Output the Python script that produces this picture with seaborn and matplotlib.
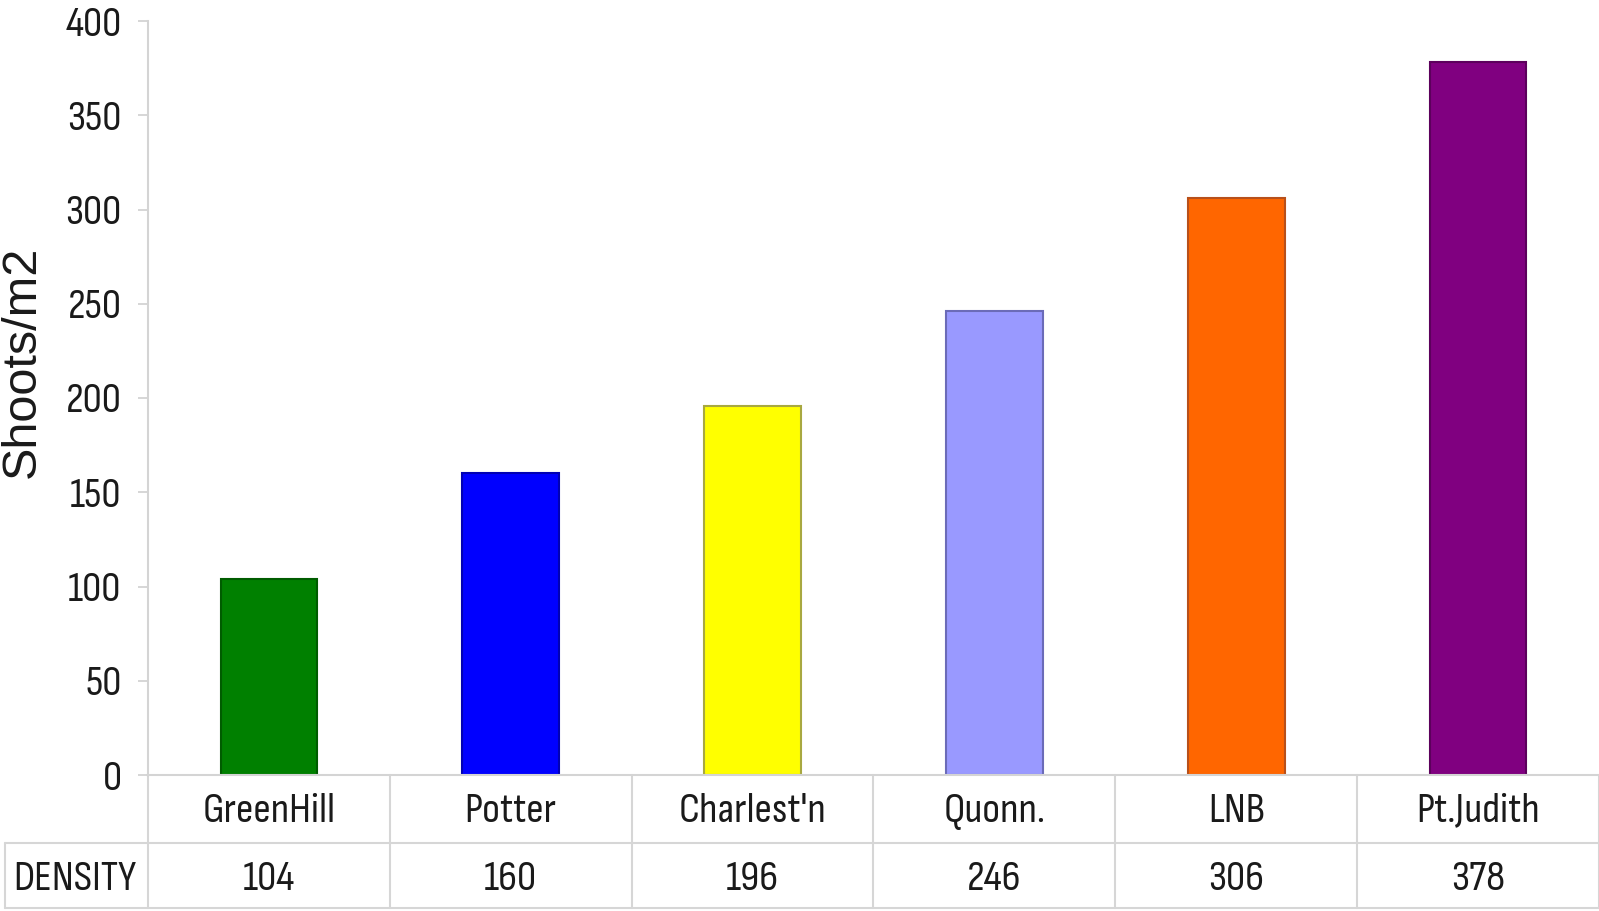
import matplotlib
matplotlib.use("Agg")
import matplotlib.pyplot as plt
import seaborn as sns
import pandas as pd
from matplotlib.transforms import blended_transform_factory

# Data
sites = ["GreenHill", "Potter", "Charlest'n", "Quonn.", "LNB", "Pt.Judith"]
density = [104, 160, 196, 246, 306, 378]
bar_colors = ["#008000", "#0000FF", "#FFFF00", "#9999FF", "#FF6600", "#800080"]
edge_colors = ["#005c00", "#0000b4", "#a8a840", "#6b6bb8", "#b8501a", "#5c005c"]
y_ticks = [0, 50, 100, 150, 200, 250, 300, 350, 400]
row_label = "DENSITY"
y_label = "Shoots/m2"

sns.set_theme(style="white")
plt.rcParams["font.family"] = ["Sofia Sans Condensed", "DejaVu Sans"]
TXT = 31
INK = "#1a1a1a"

W, H = 1599, 911
fig = plt.figure(figsize=(W / 100, H / 100), dpi=100)
fig.patch.set_facecolor("white")

ax_left, ax_top, ax_bottom = 148, 21, 775
ax = fig.add_axes([ax_left / W, 1 - ax_bottom / H, 1 - ax_left / W, (ax_bottom - ax_top) / H])

df = pd.DataFrame({"site": sites, "density": density})
sns.barplot(data=df, x="site", y="density", hue="site", palette=bar_colors,
            width=0.4, saturation=1, legend=False, ax=ax)
for patch, ec in zip(ax.patches, edge_colors):
    patch.set_edgecolor(ec)
    patch.set_linewidth(1.5)

ax.set_xlim(-0.5, 5.5)
ax.set_ylim(0, 400)
ax.set_yticks(y_ticks)
ax.set_yticklabels([str(v) for v in y_ticks], fontsize=TXT, color=INK)
ax.set_xticks([])
ax.set_xlabel("")
ax.set_ylabel("")
ax.tick_params(axis="y", length=7, width=1.2, color="#cfcfcf", pad=12, left=True)
for side in ("top", "right"):
    ax.spines[side].set_visible(False)
for side in ("left", "bottom"):
    ax.spines[side].set_color("#d4d4d4")
    ax.spines[side].set_linewidth(1.5)

# Y axis title
fig.text(22 / W, 1 - 362 / H, y_label, rotation=90, ha="center", va="center",
         fontsize=35, family=["Liberation Sans", "DejaVu Sans"], color=INK)

# Data table under the plot
col_w_px = (W - ax_left) / len(sites)
axh = ax_bottom - ax_top
trans = blended_transform_factory(ax.transData, ax.transAxes)
r1 = -(843 - ax_bottom) / axh
r2 = -(908 - ax_bottom) / axh
x_tab_left = -0.5 - (ax_left - 5) / col_w_px
line_kw = dict(color="#d6d6d6", lw=1.5, transform=trans, clip_on=False)

for k in range(len(sites) + 1):
    ax.plot([k - 0.5, k - 0.5], [0, r2], **line_kw)
ax.plot([x_tab_left, 5.5], [r1, r1], **line_kw)
ax.plot([x_tab_left, 5.5], [r2, r2], **line_kw)
ax.plot([x_tab_left, x_tab_left], [r1, r2], **line_kw)

y_cat = -(811 - ax_bottom) / axh
y_val = -(879 - ax_bottom) / axh
for i, (name, val) in enumerate(zip(sites, density)):
    ax.text(i, y_cat, name, transform=trans, ha="center", va="center",
            fontsize=TXT, color=INK, clip_on=False)
    ax.text(i, y_val, str(val), transform=trans, ha="center", va="center",
            fontsize=TXT, color=INK, clip_on=False)
ax.text(-0.5 - (ax_left - 13) / col_w_px, y_val, row_label, transform=trans,
        ha="left", va="center", fontsize=TXT, color=INK, clip_on=False)

fig.savefig("out.png", dpi=100)
